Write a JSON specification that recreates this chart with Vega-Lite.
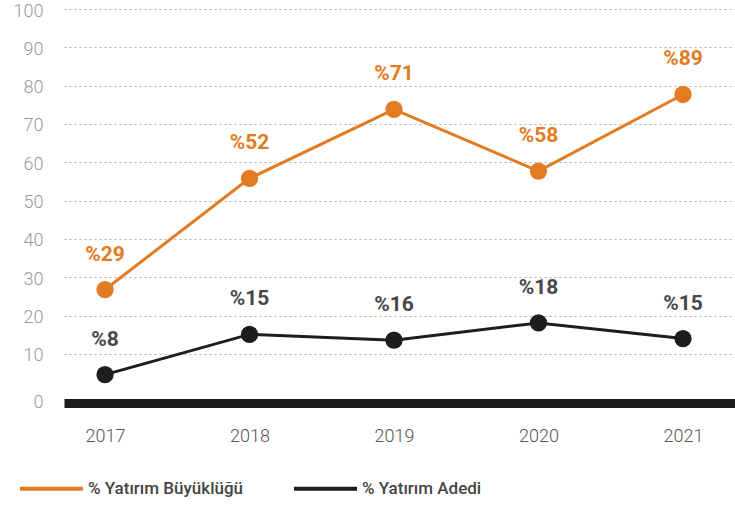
{
  "$schema": "https://vega.github.io/schema/vega-lite/v6.json",
  "autosize": "none",
  "width": 671,
  "height": 394,
  "padding": {"left": 64, "top": 9, "right": 0, "bottom": 102},
  "background": "white",
  "config": {
    "view": {"stroke": null},
    "font": "Roboto"
  },
  "data": {
    "values": [
      {"year": 2017, "series": "% Yatırım Büyüklüğü", "value": 26.8, "label": "%29"},
      {"year": 2018, "series": "% Yatırım Büyüklüğü", "value": 55.8, "label": "%52"},
      {"year": 2019, "series": "% Yatırım Büyüklüğü", "value": 73.8, "label": "%71"},
      {"year": 2020, "series": "% Yatırım Büyüklüğü", "value": 57.7, "label": "%58"},
      {"year": 2021, "series": "% Yatırım Büyüklüğü", "value": 77.7, "label": "%89"},
      {"year": 2017, "series": "% Yatırım Adedi", "value": 4.6, "label": "%8"},
      {"year": 2018, "series": "% Yatırım Adedi", "value": 15.1, "label": "%15"},
      {"year": 2019, "series": "% Yatırım Adedi", "value": 13.6, "label": "%16"},
      {"year": 2020, "series": "% Yatırım Adedi", "value": 18.1, "label": "%18"},
      {"year": 2021, "series": "% Yatırım Adedi", "value": 14.0, "label": "%15"}
    ]
  },
  "encoding": {
    "x": {
      "field": "year",
      "type": "quantitative",
      "scale": {"domain": [2016.716, 2021.36], "nice": false, "zero": false},
      "axis": {
        "values": [2017, 2018, 2019, 2020, 2021],
        "format": "d",
        "title": null,
        "grid": false,
        "ticks": false,
        "domainColor": "#1d1d1b",
        "domainWidth": 9,
        "labelFont": "Roboto",
        "labelFontWeight": 300,
        "labelFontSize": 18,
        "labelColor": "#555555",
        "labelPadding": 24
      }
    },
    "y": {
      "field": "value",
      "type": "quantitative",
      "scale": {"domain": [-2.8, 100], "nice": false, "zero": false},
      "axis": {
        "values": [0, 10, 20, 30, 40, 50, 60, 70, 80, 90, 100],
        "title": null,
        "domain": false,
        "ticks": false,
        "grid": true,
        "gridColor": "#b0b0b0",
        "gridDash": [2, 3],
        "gridWidth": 1,
        "gridOpacity": {"condition": {"test": "datum.value === 0", "value": 0}, "value": 1},
        "labelOffset": {"condition": {"test": "datum.value === 0", "value": 10}, "value": 2},
        "labelFont": "Roboto",
        "labelFontWeight": 300,
        "labelFontSize": 18,
        "labelColor": "#9a9a9a",
        "labelPadding": 21
      }
    }
  },
  "layer": [
    {
      "mark": {"type": "line", "strokeWidth": 3},
      "encoding": {
        "color": {
          "field": "series",
          "type": "nominal",
          "scale": {"domain": ["% Yatırım Büyüklüğü", "% Yatırım Adedi"], "range": ["#e27b21", "#1d1d1b"]},
          "legend": {
            "title": null,
            "orient": "none",
            "direction": "horizontal",
            "legendX": -46,
            "legendY": 446,
            "symbolType": "stroke",
            "symbolSize": 3969,
            "symbolStrokeWidth": 4,
            "labelFont": "Roboto",
            "labelFontWeight": 500,
            "labelFontSize": 17,
            "labelColor": "#444444",
            "labelOffset": 3,
            "columnPadding": 42,
            "labelLimit": 300
          }
        }
      }
    },
    {
      "mark": {"type": "circle", "size": 300, "opacity": 1},
      "encoding": {
        "color": {"field": "series", "type": "nominal", "legend": null}
      }
    },
    {
      "mark": {"type": "text", "dy": -35, "baseline": "middle", "align": "center", "font": "Roboto", "fontWeight": "bold", "fontSize": 21},
      "encoding": {
        "text": {"field": "label"},
        "color": {
          "condition": {"test": "datum.series === '% Yatırım Adedi'", "value": "#484848"},
          "value": "#e27b21"
        }
      }
    }
  ]
}
